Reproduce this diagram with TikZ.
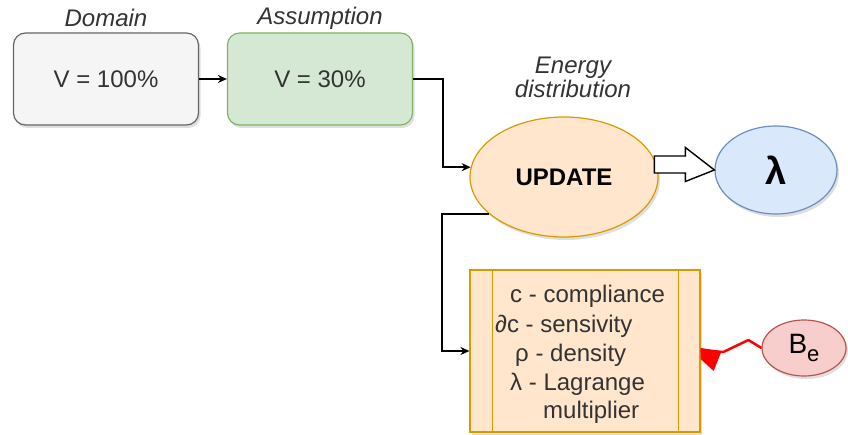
\documentclass[tikz,border=0pt]{standalone}
\usepackage{fontspec}
\setmainfont{Liberation Sans}
\usetikzlibrary{shapes.geometric,arrows.meta,shadows,calc}

\definecolor{mygray}{HTML}{F5F5F5}
\definecolor{mygrayline}{HTML}{666666}
\definecolor{mygreen}{HTML}{D5E8D4}
\definecolor{mygreenline}{HTML}{82B366}
\definecolor{myorange}{HTML}{FFE6CC}
\definecolor{myorangeline}{HTML}{D79B00}
\definecolor{myblue}{HTML}{DAE8FC}
\definecolor{myblueline}{HTML}{6C8EBF}
\definecolor{myred}{HTML}{F8CECC}
\definecolor{myredline}{HTML}{B85450}
\definecolor{mytext}{HTML}{333333}
\def\myfont{\fontsize{24}{24}\selectfont}

\begin{document}
\begin{tikzpicture}[x=1pt,y=-1pt,
  myshadow/.style={drop shadow={opacity=0.25,shadow xshift=2pt,shadow yshift=-3pt}},
  mybox/.style={rectangle,rounded corners=12pt,minimum width=185pt,minimum height=92pt,line width=1.2pt,myshadow,font=\myfont,text=mytext},
  myellipse/.style={ellipse,inner sep=0pt,line width=1.2pt,myshadow,text=black},
  mylabel/.style={font=\myfont\itshape,text=mytext,align=center},
  myarrow/.style={-{Stealth[length=9pt,width=8pt]},line width=1.6pt}]
\useasboundingbox (0,0) rectangle (848,435);

% volume boxes
\node[mybox,fill=mygray,draw=mygrayline] (dom) at (106,79) {V = 100\%};
\node[mybox,fill=mygreen,draw=mygreenline] (asm) at (320,79) {V = 30\%};
\node[mylabel] (domlbl) at (106,18) {Domain};
\node[mylabel] (asmlbl) at (320,18) {Assumption};

% update step and multiplier
\node[myellipse,fill=myorange,draw=myorangeline,minimum width=188pt,minimum height=120pt,font=\myfont\bfseries] (upd) at (564,177) {UPDATE};
\node[mylabel] (updlbl) at (573,77) {Energy\\distribution};
\node[myellipse,fill=myblue,draw=myblueline,minimum width=122pt,minimum height=88pt,font=\fontsize{38}{38}\selectfont\bfseries] (lam) at (776,170) {λ};

% variables
\node[rectangle,fill=myorange,draw=myorangeline,line width=1.2pt,minimum width=230pt,minimum height=162pt,myshadow] (vars) at (585,351) {};
\draw[myorangeline] ($(vars.north west)+(23,0)$) -- ($(vars.south west)+(23,0)$);
\draw[myorangeline] ($(vars.north east)+(-22,0)$) -- ($(vars.south east)+(-22,0)$);
\foreach \lx/\ly/\ltxt [count=\i] in {510/303/c - compliance, 495/332/∂c - sensivity, 515/361/ρ - density, 510/390/λ - Lagrange, 543/418/multiplier}
{
    \node[anchor=base west,inner sep=0pt,font=\myfont,text=mytext] (var\i) at (\lx,\ly) {\ltxt};
}
\node[myellipse,fill=myred,draw=myredline,minimum width=84pt,minimum height=56pt,font=\fontsize{28}{28}\selectfont] (be) at (804,348) {B\raisebox{-8pt}{\fontsize{22}{22}\selectfont e}};

% connectors
\coordinate (elbA) at (443,79);
\coordinate (elbB) at (442,0);
\draw[myarrow] (dom) -- (asm);
\draw[myarrow] (asm.east) -- (elbA) |- (upd.174);
\draw[myarrow] (upd.206) -- (upd.206 -| elbB) |- (vars.west);
\draw[line width=1.4pt,fill=white] (lam.west) -- ++(-29,-22.5) -- ++(0,8.5) -- ++(-31,0) -- ++(0,17) -- ++(31,0) -- ++(0,8.5) -- cycle;
\draw[red,line width=2.5pt,line join=round] (be.west) -- ++(-13,-8) -- ++(-25,12) -- (vars.east);
\fill[red] ($(vars.east)+(0,-3)$) -- ++(21,3) -- ++(-8,20) -- ++(-13,-12) -- cycle;
\end{tikzpicture}
\end{document}
